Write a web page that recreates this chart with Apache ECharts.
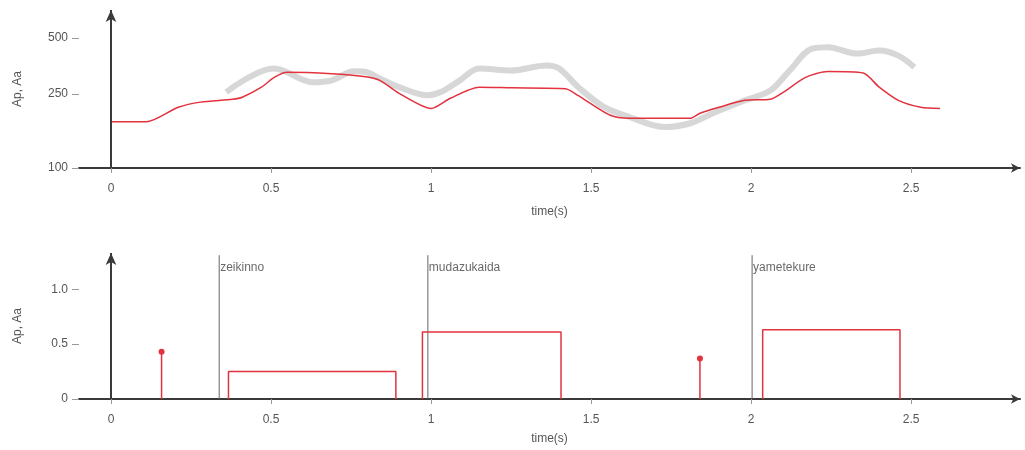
<!DOCTYPE html>
<html>
<head>
<meta charset="utf-8">
<script src="https://cdn.jsdelivr.net/npm/echarts@6/dist/echarts.min.js"></script>
<style>
  html, body { margin: 0; padding: 0; background: #fff; }
  #chart { width: 1025px; height: 450px; }
</style>
</head>
<body>
<div id="chart"></div>
<script>
// top panel: F0 contour (model = red, observed = thick gray)
var f0Time = [0, 0.11, 0.21, 0.28, 0.38, 0.41, 0.47, 0.51, 0.55, 0.69, 0.79, 0.84, 0.90, 1.0, 1.06, 1.15, 1.25, 1.42, 1.46, 1.56, 1.62, 1.81, 1.84, 1.90, 1.98, 2.06, 2.10, 2.17, 2.24, 2.35, 2.40, 2.46, 2.53, 2.59];
var f0Model = [177, 177, 212, 226, 234, 240, 272, 307, 327, 321, 310, 296, 252, 209, 237, 272, 270, 267, 245, 192, 185, 185, 197, 212, 231, 234, 255, 307, 330, 324, 272, 231, 212, 209];
var obsTime = [0.36, 0.51, 0.63, 0.69, 0.76, 0.80, 0.84, 0.90, 0.99, 1.03, 1.09, 1.15, 1.25, 1.36, 1.40, 1.46, 1.54, 1.62, 1.73, 1.81, 1.88, 1.98, 2.06, 2.12, 2.19, 2.24, 2.33, 2.40, 2.46, 2.51];
var obsHz = [256, 343, 289, 296, 331, 327, 303, 272, 246, 256, 296, 343, 334, 356, 343, 272, 213, 188, 166, 174, 197, 231, 261, 334, 438, 446, 412, 428, 402, 348];
var topTicks = [100, 250, 500];

// bottom panel: phrase commands (stems), accent commands (boxes), word boundaries
var phraseTime = [0.158, 1.84];
var phraseAmp = [0.43, 0.37];
var accStart = [0.367, 0.973, 2.036];
var accEnd = [0.89, 1.406, 2.465];
var accAmp = [0.25, 0.61, 0.63];
var wordTime = [0.338, 0.99, 2.003];
var wordLabel = ['zeikinno', 'mudazukaida', 'yametekure'];
var bottomTicks = [0, 0.5, 1.0];

var timeTicks = [0, 0.5, 1, 1.5, 2, 2.5];

var RED = '#e2323e';
var AXIS = '#3a3a3a';
var TXT = '#555';
var FONT = 'Liberation Sans';

var chart = echarts.init(document.getElementById('chart'));

function zip(xs, ys) {
  var out = [];
  for (var i = 0; i < xs.length; i++) out.push([xs[i], ys[i]]);
  return out;
}

function xAxisFor(idx, gap) {
  return {
    type: 'value', gridIndex: idx, min: -0.1, max: 2.84,
    name: 'time(s)', nameLocation: 'middle', nameGap: gap,
    nameTextStyle: { color: TXT, fontSize: 12, fontFamily: FONT },
    axisLine: { show: true, onZero: false, symbol: ['none', 'arrow'], symbolSize: [7, 9],
      lineStyle: { color: AXIS, width: 2 } },
    axisTick: { show: true, length: 5, customValues: timeTicks, lineStyle: { color: '#999' } },
    axisLabel: { customValues: timeTicks, margin: 15, color: TXT, fontSize: 12, fontFamily: FONT },
    splitLine: { show: false }
  };
}

function yArrow(yFrom, yTo) {
  return {
    silent: true, symbol: ['none', 'arrow'], symbolSize: [8, 12],
    label: { show: false },
    lineStyle: { color: AXIS, width: 2, type: 'solid' },
    emphasis: { disabled: true },
    data: [[{ coord: [0, yFrom] }, { coord: [0, yTo] }]]
  };
}

// boxes: one line per accent command
var boxSeries = [];
for (var i = 0; i < accStart.length; i++) {
  boxSeries.push({
    type: 'line', xAxisIndex: 1, yAxisIndex: 1, symbol: 'none', silent: true,
    lineStyle: { color: RED, width: 1.5 },
    data: [[accStart[i], 0], [accStart[i], accAmp[i]], [accEnd[i], accAmp[i]], [accEnd[i], 0]]
  });
}
var stemSeries = [];
for (var j = 0; j < phraseTime.length; j++) {
  stemSeries.push({
    type: 'line', xAxisIndex: 1, yAxisIndex: 1, silent: true,
    symbol: 'circle', symbolSize: 6, showSymbol: true,
    itemStyle: { color: RED },
    lineStyle: { color: RED, width: 1.5 },
    data: [{ value: [phraseTime[j], 0], symbol: 'none' }, [phraseTime[j], phraseAmp[j]]]
  });
}
var wordSeries = [];
for (var k = 0; k < wordTime.length; k++) {
  wordSeries.push({
    type: 'line', xAxisIndex: 1, yAxisIndex: 1, symbol: 'none', silent: true,
    lineStyle: { color: '#666', width: 1 },
    data: [[wordTime[k], 0], [wordTime[k], 1.31]]
  });
}

var option = {
  animation: false,
  backgroundColor: '#fff',
  grid: [
    { left: 79, right: 5, top: 10, bottom: 282 },
    { left: 79, right: 5, top: 253, bottom: 51 }
  ],
  xAxis: [xAxisFor(0, 38), xAxisFor(1, 34)],
  yAxis: [
    {
      type: 'log', gridIndex: 0, min: 100, max: 707, logBase: 10,
      name: 'Ap, Aa', nameLocation: 'middle', nameGap: 55,
      nameTextStyle: { color: TXT, fontSize: 12, fontFamily: FONT },
      axisLine: { show: false, onZero: false },
      axisTick: { show: true, length: 7, customValues: topTicks, lineStyle: { color: '#999' } },
      axisLabel: { customValues: topTicks, margin: 11, color: TXT, fontSize: 12, fontFamily: FONT },
      splitLine: { show: false }
    },
    {
      type: 'value', gridIndex: 1, min: 0, max: 1.33,
      name: 'Ap, Aa', nameLocation: 'middle', nameGap: 55,
      nameTextStyle: { color: TXT, fontSize: 12, fontFamily: FONT },
      axisLine: { show: false, onZero: false },
      axisTick: { show: true, length: 7, customValues: bottomTicks, lineStyle: { color: '#999' } },
      axisLabel: {
        customValues: bottomTicks, margin: 11, color: TXT, fontSize: 12, fontFamily: FONT,
        formatter: function (v) { return v === 0 ? '0' : v.toFixed(1); }
      },
      splitLine: { show: false }
    }
  ],
  series: [
    {
      type: 'line', xAxisIndex: 0, yAxisIndex: 0, symbol: 'none', smooth: 0.35, silent: true,
      lineStyle: { color: '#d3d3d3', width: 6, opacity: 0.9 },
      data: zip(obsTime, obsHz),
      markLine: yArrow(100, 707)
    },
    {
      type: 'line', xAxisIndex: 0, yAxisIndex: 0, symbol: 'none', smooth: 0.25, silent: true,
      lineStyle: { color: RED, width: 1.5 },
      data: zip(f0Time, f0Model)
    },
    {
      type: 'scatter', xAxisIndex: 1, yAxisIndex: 1, symbolSize: 0, silent: true,
      data: wordTime.map(function (t, i) { return { value: [t, 1.2], name: wordLabel[i] }; }),
      label: { show: true, position: 'right', distance: 1, formatter: '{b}',
        color: '#444', fontSize: 12, fontFamily: FONT },
      markLine: yArrow(0, 1.33)
    }
  ].concat(wordSeries, boxSeries, stemSeries)
};

chart.setOption(option);
</script>
</body>
</html>
